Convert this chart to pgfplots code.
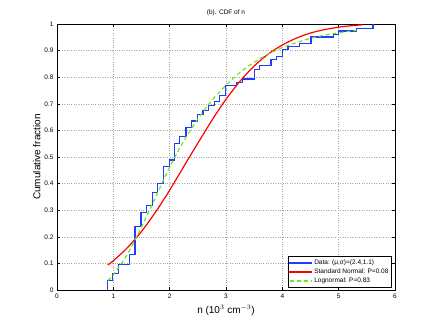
\documentclass[border=0pt]{standalone}
\usepackage{pgfplots}
\pgfplotsset{compat=1.18}
\usepackage{fontspec}
\setmainfont{Liberation Sans}
\definecolor{datablue}{RGB}{30,60,255}
\definecolor{fitgreen}{RGB}{110,230,30}

\begin{document}
\begin{tikzpicture}
\begin{axis}[
    scale only axis,
    width=338pt, height=266pt,
    xmin=0, xmax=6, ymin=0, ymax=1,
    xtick={0,1,...,6},
    ytick={0,0.1,...,1},
    yticklabel style={/pgf/number format/fixed, /pgf/number format/precision=1},
    /pgf/number format/assume math mode=true,
    tick label style={font=\fontsize{6.5}{7}\selectfont},
    tick align=inside,
    major tick length=3pt,
    tick style={black, line width=0.4pt},
    grid=major,
    grid style={gray!70, dotted, line width=0.4pt},
    axis line style={black, line width=0.6pt},
    title={(b). CDF of n},
    title style={font=\fontsize{6.5}{7}\selectfont, yshift=-1pt},
    xlabel={n (10$^3$ cm$^{-3}$)},
    ylabel={Cumulative fraction},
    label style={font=\fontsize{10}{11}\selectfont},
    ylabel style={yshift=-3pt},
    legend style={at={(0.99,0.01)}, anchor=south east, font=\fontsize{6.5}{7.5}\selectfont,
        draw=black, inner sep=1pt, row sep=-1pt},
    legend cell align=left,
]
\addplot[datablue, line width=1.2pt, const plot mark left, forget plot] coordinates {
(0.89,0) (0.89,0.035) (0.99,0.063) (1.09,0.097) (1.28,0.133) (1.385,0.24)
(1.49,0.29) (1.59,0.317) (1.69,0.366) (1.79,0.40) (1.89,0.464) (1.99,0.489)
(2.09,0.55) (2.18,0.577) (2.29,0.612) (2.39,0.635) (2.49,0.661) (2.59,0.674)
(2.69,0.695) (2.79,0.709) (2.88,0.731) (2.99,0.768) (3.19,0.78) (3.29,0.793)
(3.50,0.83) (3.59,0.843) (3.80,0.866) (3.90,0.878) (4.00,0.903) (4.10,0.916)
(4.30,0.928) (4.51,0.951) (4.91,0.962) (5.00,0.974) (5.31,0.984) (5.61,1.0)
};
\addplot[red, line width=1.2pt, smooth, forget plot] coordinates {
(0.9,0.094) (1.0,0.110) (1.25,0.159) (1.5,0.220) (1.75,0.293) (2.0,0.375)
(2.25,0.464) (2.5,0.552) (2.75,0.638) (3.0,0.717) (3.25,0.785) (3.5,0.842)
(3.75,0.887) (4.0,0.921) (4.25,0.947) (4.5,0.966) (4.75,0.979) (5.0,0.988)
(5.25,0.994) (5.42,0.997)
};
\addplot[fitgreen, line width=1.2pt, dash pattern=on 4pt off 3pt, smooth, forget plot] coordinates {
(0.9,0.036) (1.0,0.057) (1.25,0.135) (1.5,0.237) (1.75,0.349) (2.0,0.462)
(2.25,0.560) (2.5,0.643) (2.75,0.713) (3.0,0.770) (3.25,0.818) (3.5,0.856)
(3.75,0.887) (4.0,0.911) (4.25,0.930) (4.5,0.946) (4.75,0.958) (5.0,0.967)
(5.32,0.976)
};
\addlegendimage{legend image code/.code={\fill[datablue] (0pt,-0.6pt) rectangle (22pt,0.6pt);}}
\addlegendentry{Data: (μ,σ)=(2.4,1.1)}
\addlegendimage{legend image code/.code={\fill[red] (0pt,-0.6pt) rectangle (22pt,0.6pt);}}
\addlegendentry{Standard Normal: P=0.08}
\addlegendimage{legend image code/.code={\draw[fitgreen, line width=1.2pt, dash pattern=on 4pt off 3pt] (0pt,0pt) -- (22pt,0pt);}}
\addlegendentry{Lognormal: P=0.83}
\end{axis}
\path ([shift={(-57pt,-37pt)}]current axis.south west) rectangle ([shift={(41pt,24pt)}]current axis.north east);
\end{tikzpicture}
\end{document}
